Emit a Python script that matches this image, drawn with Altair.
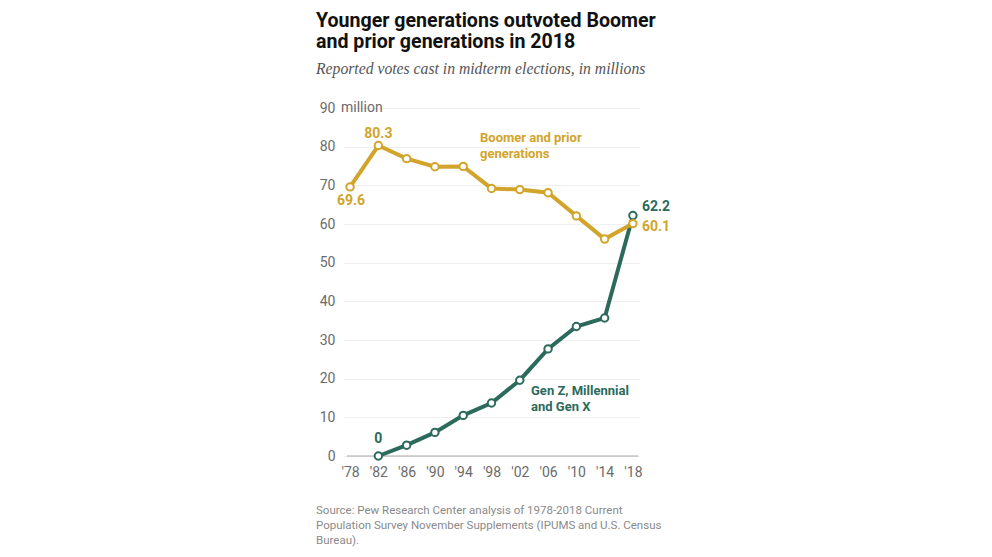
import altair as alt
import pandas as pd

# ---- data ----
years = [1978, 1982, 1986, 1990, 1994, 1998, 2002, 2006, 2010, 2014, 2018]
boomer = [69.6, 80.3, 76.9, 74.8, 74.9, 69.2, 68.9, 68.1, 62.1, 56.1, 60.1]
younger_years = [1982, 1986, 1990, 1994, 1998, 2002, 2006, 2010, 2014, 2018]
younger = [0, 2.8, 6.1, 10.5, 13.7, 19.6, 27.7, 33.5, 35.7, 62.2]

series_names = ["Boomer and prior generations", "Gen Z, Millennial and Gen X"]
series_colors = ["#D2A42B", "#2C6A5B"]

y_ticks = [0, 10, 20, 30, 40, 50, 60, 70, 80, 90]
x_ticks = years

title_lines = ["Younger generations outvoted Boomer", "and prior generations in 2018"]
subtitle = "Reported votes cast in midterm elections, in millions"
source_lines = [
    "Source: Pew Research Center analysis of 1978-2018 Current",
    "Population Survey November Supplements (IPUMS and U.S. Census",
    "Bureau).",
]
boomer_label = ["Boomer and prior", "generations"]
younger_label = ["Gen Z, Millennial", "and Gen X"]

# ---- build table ----
rows = []
for y, v in zip(years, boomer):
    rows.append({"year": y, "value": v, "series": series_names[0]})
for y, v in zip(younger_years, younger):
    rows.append({"year": y, "value": v, "series": series_names[1]})
df = pd.DataFrame(rows)
df["label"] = df["value"].map(lambda v: f"{v:g}")

FONT = "Roboto"
GOLD, GREEN = series_colors
AXIS_GRAY = "#6b6b6b"

xs = alt.Scale(domain=[1977, 2019], nice=False, zero=False)
ys = alt.Scale(domain=[0, 90], nice=False)

x_axis = alt.Axis(values=x_ticks, format="d", labelExpr="\"'\" + substring(datum.label, 2)",
                  grid=False, ticks=False, domain=False, labelPadding=9, labelOverlap=False,
                  labelFlush=False, labelFontSize=14, labelColor=AXIS_GRAY, labelFont=FONT, title=None)
y_axis = alt.Axis(values=y_ticks, grid=True, gridColor="#efefef", ticks=False, domain=False,
                  labelPadding=8, labelOverlap=False, labelFlush=False, labelFontSize=14,
                  labelColor=AXIS_GRAY, labelFont=FONT, title=None)


def X():
    return alt.X("year:Q", scale=xs, axis=x_axis)


def Y():
    return alt.Y("value:Q", scale=ys, axis=y_axis)


base = alt.Chart(df)
gold_df = base.transform_filter(alt.datum.series == series_names[0])
green_df = base.transform_filter(alt.datum.series == series_names[1])

zero_rule = alt.Chart(alt.Data(values=[{}])).mark_rule(color="#a8a8a8", strokeWidth=1).encode(
    x=alt.value(4), x2=alt.value(295), y=alt.value(348)
)

lines_green = green_df.mark_line(strokeWidth=4, color=GREEN).encode(x=X(), y=Y())
lines_gold = gold_df.mark_line(strokeWidth=4, color=GOLD).encode(x=X(), y=Y())
pts_green = green_df.mark_point(filled=True, fill="white", size=55, strokeWidth=2, stroke=GREEN,
                                opacity=1).encode(x=X(), y=Y())
pts_gold = gold_df.mark_point(filled=True, fill="white", size=55, strokeWidth=2, stroke=GOLD,
                              opacity=1).encode(x=X(), y=Y())


def vlabel(series, year, color_, dx, dy, align):
    return base.transform_filter(
        (alt.datum.series == series) & (alt.datum.year == year)
    ).mark_text(font=FONT, fontWeight="bold", fontSize=14, color=color_, dx=dx, dy=dy,
                align=align, baseline="middle").encode(x=X(), y=Y(), text="label:N")


labels = [
    vlabel(series_names[0], 1982, GOLD, 0, -12, "center"),
    vlabel(series_names[0], 1978, GOLD, 1, 14, "center"),
    vlabel(series_names[0], 2018, GOLD, 9, 3, "left"),
    vlabel(series_names[1], 2018, GREEN, 9, -8, "left"),
    vlabel(series_names[1], 1982, GREEN, 0, -17, "center"),
]


def ptext(txt, x, y, size, color_, weight="normal", style="normal", font=FONT, lh=16):
    return alt.Chart(alt.Data(values=[{}])).mark_text(
        text=txt, font=font, fontSize=size, color=color_, fontWeight=weight, fontStyle=style,
        align="left", baseline="alphabetic", lineHeight=lh,
    ).encode(x=alt.value(x), y=alt.value(y))


million = alt.Chart(alt.Data(values=[{}])).mark_text(
    text="million", font=FONT, fontSize=14, color=AXIS_GRAY, align="left", baseline="middle"
).encode(x=alt.value(-2), y=alt.value(0))

texts = [
    ptext(title_lines, -27, -81, 19.6, "#111111", weight="bold", lh=21),
    ptext(subtitle, -27, -34, 15.7, "#555555", style="italic", font="Liberation Serif"),
    ptext(source_lines, -27, 406, 11.5, "#8a8a8a", lh=15),
    ptext(boomer_label, 137, 34, 13, GOLD, weight="bold", lh=15.5),
    ptext(younger_label, 188, 287, 13, GREEN, weight="bold", lh=15.5),
    million,
]

chart = alt.layer(
    zero_rule, lines_green, lines_gold, pts_green, pts_gold, *labels, *texts
).properties(
    width=297, height=348,
    background="white",
    autosize=alt.AutoSizeParams(type="none"),
    padding={"left": 335, "top": 100, "right": 344, "bottom": 93},
).configure_view(stroke=None).configure_axisX(grid=False)

chart.save("out.html", embed_options={"renderer": "svg", "actions": False})
